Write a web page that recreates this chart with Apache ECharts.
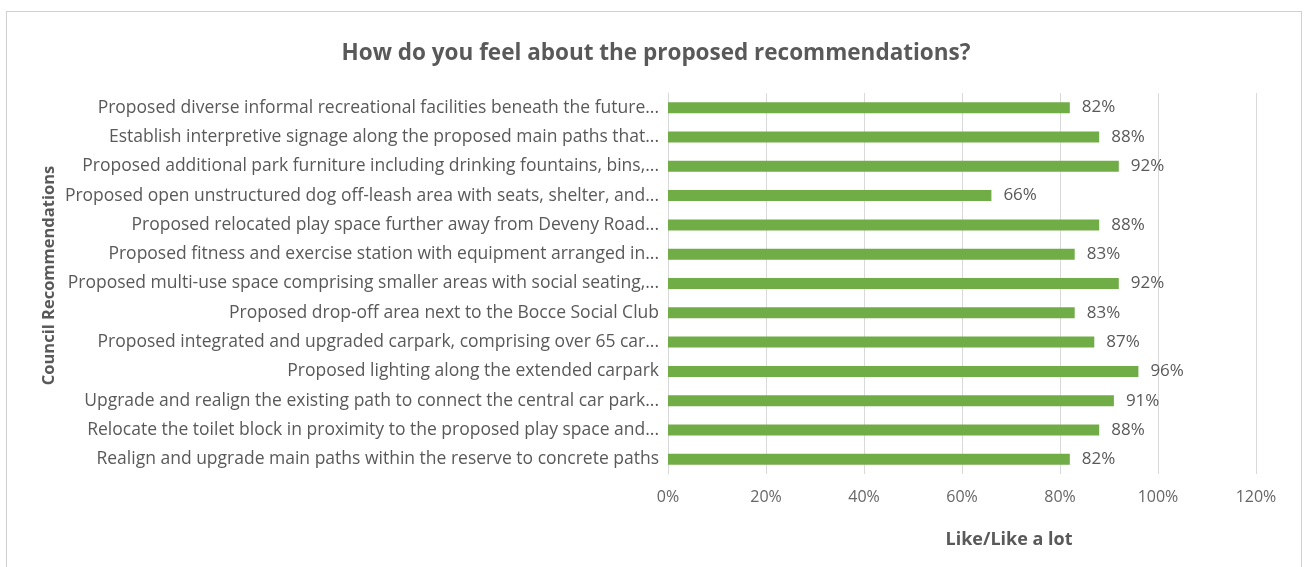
<!DOCTYPE html>
<html>
<head>
<meta charset="utf-8">
<script src="https://cdn.jsdelivr.net/npm/echarts@6/dist/echarts.min.js"></script>
<style>
html,body{margin:0;padding:0;background:#fff;}
#frame{position:absolute;left:6px;top:11px;width:1296px;height:600px;border:1px solid #d0d0d0;box-sizing:border-box;}
#chart{position:absolute;left:0;top:0;width:1308px;height:567px;}
</style>
</head>
<body>
<div id="frame"></div>
<div id="chart"></div>
<script>
const categories = [
  "Proposed diverse informal recreational facilities beneath the future...",
  "Establish interpretive signage along the proposed main paths that...",
  "Proposed additional park furniture including drinking fountains, bins,...",
  "Proposed open unstructured dog off-leash area with seats, shelter, and...",
  "Proposed relocated play space further away from Deveny Road...",
  "Proposed fitness and exercise station with equipment arranged in...",
  "Proposed multi-use space comprising smaller areas with social seating,...",
  "Proposed drop-off area next to the Bocce Social Club",
  "Proposed integrated and upgraded carpark, comprising over 65 car...",
  "Proposed lighting along the extended carpark",
  "Upgrade and realign the existing path to connect the central car park...",
  "Relocate the toilet block in proximity to the proposed play space and...",
  "Realign and upgrade main paths within the reserve to concrete paths"
];
const likeValues = [82, 88, 92, 66, 88, 83, 92, 83, 87, 96, 91, 88, 82];
const xTicks = [0, 20, 40, 60, 80, 100, 120];

const chart = echarts.init(document.getElementById('chart'));
const font = "'Open Sans', sans-serif";
chart.setOption({
  animation: false,
  title: {
    text: "How do you feel about the proposed recommendations?",
    left: 651, top: 37, textAlign: 'center',
    textStyle: {fontFamily: font, fontSize: 22.5, fontWeight: 'bold', color: '#595959'}
  },
  grid: {left: 668, right: 52, top: 93, bottom: 93, containLabel: false},
  xAxis: {
    type: 'value', min: xTicks[0], max: xTicks[xTicks.length-1], interval: 20,
    axisLabel: {formatter: '{value}%', color: '#666666', fontFamily: font, fontSize: 16, margin: 15},
    splitLine: {lineStyle: {color: '#d9d9d9', width: 1}},
    axisLine: {show: false}, axisTick: {show: false},
    name: 'Like/Like a lot', nameLocation: 'middle', nameGap: 57,
    nameTextStyle: {fontFamily: font, fontSize: 18, fontWeight: 'bold', color: '#595959', padding: [0,0,0,94]}
  },
  yAxis: {
    type: 'category', data: categories.slice().reverse(),
    axisLine: {show: true, lineStyle: {color: '#d9d9d9'}}, axisTick: {show: false},
    axisLabel: {color: '#595959', fontFamily: font, fontSize: 17.5, margin: 9},
    name: 'Council Recommendations', nameLocation: 'middle', nameGap: 610, nameRotate: 90,
    nameTextStyle: {fontFamily: font, fontSize: 16.5, fontWeight: 'bold', color: '#595959', padding: [0,0,0,16]}
  },
  series: [{
    type: 'bar', data: likeValues.slice().reverse(), barWidth: 11,
    itemStyle: {color: '#70AD47'},
    label: {show: true, position: 'right', distance: 12, formatter: '{c}%', color: '#595959', fontFamily: font, fontSize: 17}
  }]
});
</script>
</body>
</html>
